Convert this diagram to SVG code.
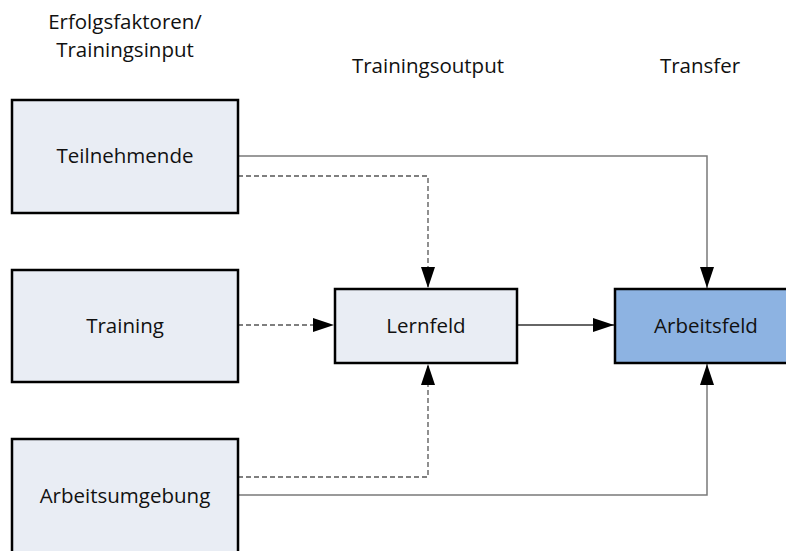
<svg xmlns="http://www.w3.org/2000/svg" width="786" height="551" viewBox="0 0 786 551">
  <style>
    .lbl { font-family: "Open Sans", "Liberation Sans", sans-serif; font-size: 20.5px; fill: #111; text-anchor: middle; }
    .box { fill: #E9EDF4; stroke: #000; stroke-width: 2.5; }
    .hot { fill: #8DB3E2; stroke: #000; stroke-width: 2.5; }
    .solid { fill: none; stroke: #7a7a7a; stroke-width: 1.5; }
    .dark { fill: none; stroke: #333; stroke-width: 1.5; }
    .dash { fill: none; stroke: #555; stroke-width: 1.3; stroke-dasharray: 5 3; }
  </style>
  <defs>
    <marker id="arrow" markerUnits="userSpaceOnUse" markerWidth="22" markerHeight="16" viewBox="0 0 22 16" refX="21" refY="8" orient="auto">
      <path d="M0,1 L21,8 L0,15 Z" fill="#000"/>
    </marker>
  </defs>

  <!-- column headings -->
  <g id="headings">
    <text class="lbl" x="125" y="29">Erfolgsfaktoren/</text>
    <text class="lbl" x="125" y="57">Trainingsinput</text>
    <text class="lbl" x="428" y="73">Trainingsoutput</text>
    <text class="lbl" x="700" y="73">Transfer</text>
  </g>

  <!-- connectors -->
  <g id="connectors">
    <polyline class="solid" points="238,156 707,156 707,288" marker-end="url(#arrow)"/>
    <polyline class="dash" points="238,176 428,176 428,288" marker-end="url(#arrow)"/>
    <line class="dash" x1="238" y1="325" x2="334" y2="325" marker-end="url(#arrow)"/>
    <line class="dark" x1="517" y1="325" x2="614" y2="325" marker-end="url(#arrow)"/>
    <polyline class="dash" points="238,477 428,477 428,364" marker-end="url(#arrow)"/>
    <polyline class="solid" points="238,495 707,495 707,364" marker-end="url(#arrow)"/>
  </g>

  <g id="teilnehmende">
    <rect class="box" x="12" y="100" width="226" height="113"/>
    <text class="lbl" x="125" y="163">Teilnehmende</text>
  </g>
  <g id="training">
    <rect class="box" x="12" y="270" width="226" height="112"/>
    <text class="lbl" x="125" y="333">Training</text>
  </g>
  <g id="arbeitsumgebung">
    <rect class="box" x="12" y="439" width="226" height="114"/>
    <text class="lbl" x="125" y="503">Arbeitsumgebung</text>
  </g>
  <g id="lernfeld">
    <rect class="box" x="335" y="289" width="182" height="74"/>
    <text class="lbl" x="426" y="333">Lernfeld</text>
  </g>
  <g id="arbeitsfeld">
    <rect class="hot" x="615" y="289" width="182" height="74"/>
    <text class="lbl" x="706" y="333">Arbeitsfeld</text>
  </g>
</svg>
